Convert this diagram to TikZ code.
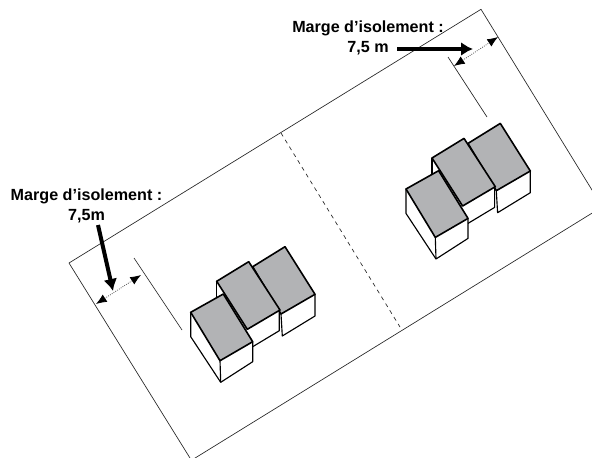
\documentclass[tikz,border=0pt]{standalone}
\usepackage{fontspec}
\setmainfont{Liberation Sans}
\usetikzlibrary{arrows.meta}

\definecolor{roofgray}{RGB}{178,179,181}

\tikzset{
	roof/.style={draw=black, fill=roofgray, line width=1.2pt, line join=round},
	wall/.style={draw=black, line width=0.85pt, line join=round},
	lot/.style={draw=black!85, line width=0.5pt},
	margin/.style={densely dotted, black!70, line width=0.6pt, {Latex[length=8pt,width=6.5pt,black]}-{Latex[length=8pt,width=6.5pt,black]}},
	pointer/.style={line width=3pt, -{Latex[length=9pt,width=10.5pt]}},
	caption/.style={font=\bfseries\fontsize{12.1}{15}\selectfont, align=center, inner sep=0pt},
	house/.pic={
		\draw[wall] (281,314) -- (282.3,336) -- (315,316) -- (315,294.3);
		\draw[roof] (252.7,266.7) -- (285,246.7) -- (315,294.3) -- (281,314) -- cycle;
		\draw[wall] (216.7,281.3) -- (216.7,298);
		\draw[wall] (279.3,310) -- (279.3,330.7) -- (252.7,346.7);
		\draw[roof] (216.7,281.3) -- (248.7,261.7) -- (280,310) -- (247.3,329.3) -- cycle;
		\draw[wall] (190.7,312.3) -- (190.7,336.7) -- (220.7,382.3) -- (252.7,361.7) -- (252.7,341.7);
		\draw[wall] (220,360.7) -- (220.7,382.3);
		\draw[roof] (190.7,312.3) -- (220,360.7) -- (252.7,341.7) -- (223.3,294) -- cycle;
	}
}

\begin{document}
\begin{tikzpicture}[x=0.75pt, y=-0.75pt]
	\useasboundingbox (0,0) rectangle (592,457);
	\clip (0,0) rectangle (592,457);

	% lot
	\draw[lot] (602.3,206.8) -- (481,9.3) -- (69,263) -- (191.4,460.3) -- cycle;
	\draw[lot, dashed] (281,133) -- (400,327);
	\draw[lot] (134,258) -- (182,330);
	\draw[lot] (448,57) -- (487,117);

	% houses
	\pic {house};
	\pic at (215.3,-123.3) {house};

	% margins
	\coordinate (leftA) at (96,304);
	\coordinate (leftB) at (141,275);
	\coordinate (rightA) at (454,66);
	\coordinate (rightB) at (498,37);
	\draw[margin] (leftA) -- (leftB);
	\draw[margin] (rightA) -- (rightB);

	% labels
	\node[caption] (leftlabel) at (86.5,205.5) {Marge d’isolement :\\7,5m};
	\node[caption] (rightlabel) at (368,38) {Marge d’isolement :\\7,5 m};

	\coordinate (leftstart) at (98,225);
	\coordinate (leftend) at (113,291);
	\coordinate (rightstart) at (397,49);
	\coordinate (rightend) at (473,49);
	\draw[pointer] (leftstart) -- (leftend);
	\draw[pointer] (rightstart) -- (rightend);
\end{tikzpicture}
\end{document}
